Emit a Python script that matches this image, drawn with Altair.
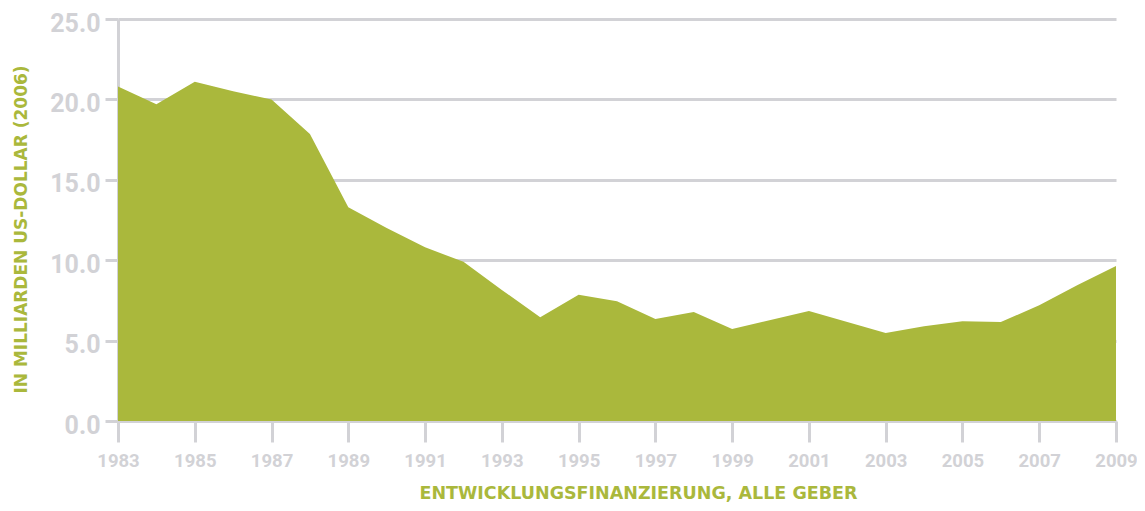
import altair as alt
import pandas as pd

years = list(range(1983, 2010))
values = [20.8, 19.7, 21.1, 20.5, 20.0, 17.85, 13.3, 12.0, 10.8, 9.9,
          8.15, 6.45, 7.85, 7.45, 6.35, 6.78, 5.72, 6.28, 6.84, 6.16,
          5.47, 5.9, 6.2, 6.15, 7.2, 8.45, 9.64]
x_ticks = list(range(1983, 2010, 2))
y_ticks = [0, 5, 10, 15, 20, 25]

df = pd.DataFrame({"Jahr": years, "Wert": values})

GREEN = "#aab83c"
GRAY = "#d2d2d6"
LABEL_FONT = "Roboto"
TITLE_FONT = "DejaVu Sans"

chart = alt.Chart(df).mark_area(color=GREEN, opacity=1).encode(
    x=alt.X("Jahr:Q",
            scale=alt.Scale(domain=[1983, 2009], nice=False, zero=False),
            axis=alt.Axis(values=x_ticks, format="d", grid=False,
                          title="ENTWICKLUNGSFINANZIERUNG, ALLE GEBER",
                          titleColor=GREEN, titleFont=TITLE_FONT,
                          titleFontSize=17.5, titleFontWeight="bold",
                          titleX=520, titleY=72, titleAlign="center",
                          titleBaseline="middle",
                          labelFont=LABEL_FONT, labelFontSize=18.5,
                          labelFontWeight="bold", labelColor=GRAY,
                          labelPadding=9, tickSize=21, tickWidth=3,
                          tickColor=GRAY, domainColor=GRAY, domainWidth=3,
                          labelFlush=False, labelOverlap=False)),
    y=alt.Y("Wert:Q",
            scale=alt.Scale(domain=[0, 25], nice=False),
            axis=alt.Axis(values=y_ticks, format=".1f", grid=True,
                          gridColor=GRAY, gridWidth=3,
                          title="IN MILLIARDEN US-DOLLAR (2006)",
                          titleColor=GREEN, titleFont=TITLE_FONT,
                          titleFontSize=17, titleFontWeight="bold",
                          titleX=-97, titleY=210, titleAlign="center",
                          titleBaseline="middle", titleAngle=270,
                          labelFont=LABEL_FONT, labelFontSize=25,
                          labelFontWeight="bold", labelColor=GRAY,
                          labelPadding=5, labelOffset=4, tickSize=13,
                          tickWidth=3, tickColor=GRAY, domainColor=GRAY,
                          domainWidth=3, labelFlush=False,
                          labelOverlap=False)),
).properties(
    width=998, height=402,
    autosize=alt.AutoSizeParams(type="none"),
    padding={"left": 110, "top": 11, "right": 21, "bottom": 82},
).configure_view(stroke=None)

chart.save("out.html", embed_options={"renderer": "svg", "actions": False})
